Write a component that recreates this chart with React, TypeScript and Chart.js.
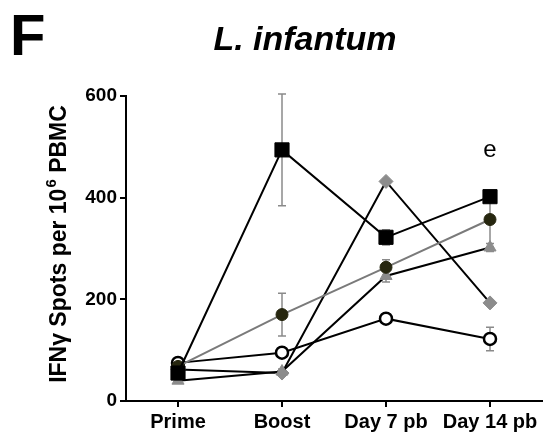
import React, { useEffect, useRef } from 'react';
import { Chart, registerables } from 'chart.js';
Chart.register(...registerables);

const categories = ['Prime', 'Boost', 'Day 7 pb', 'Day 14 pb'];
const squareValues = [55, 494, 322, 402];
const squareErrors = [8, 110, 15, 10];
const filledCircleValues = [68, 170, 263, 357];
const filledCircleErrors = [5, 42, 15, 55];
const openCircleValues = [75, 95, 162, 122];
const openCircleErrors = [5, 8, 5, 23];
const triangleValues = [40, 58, 246, 302];
const triangleErrors = [3, 5, 12, 8];
const diamondValues = [62, 55, 432, 193];
const diamondErrors = [3, 3, 4, 4];
const yTicks = [0, 200, 400, 600];
const annotationText = 'e';
const annotationCategory = 'Day 14 pb';
const annotationValue = 480;
const panelLetter = 'F';
const titleText = 'L. infantum';
const yTitleMain = 'IFNγ Spots per 10';
const yTitleSup = '6';
const yTitleEnd = ' PBMC';

const FONT = '"Liberation Sans", Arial, sans-serif';

const errorBarPlugin = {
  id: 'errorBars',
  beforeDatasetsDraw(chart: any) {
    const ctx = chart.ctx;
    const yScale = chart.scales.y;
    chart.data.datasets.forEach((ds: any, i: number) => {
      const meta = chart.getDatasetMeta(i);
      if (!ds.errors) return;
      meta.data.forEach((pt: any, j: number) => {
        const v = ds.data[j];
        const e = ds.errors[j];
        if (!e) return;
        const x = pt.x;
        const yTop = yScale.getPixelForValue(v + e);
        const yBot = yScale.getPixelForValue(v - e);
        ctx.save();
        ctx.strokeStyle = '#8a8a8a';
        ctx.lineWidth = 1.5;
        ctx.beginPath();
        ctx.moveTo(x, yTop);
        ctx.lineTo(x, yBot);
        ctx.moveTo(x - 4, yTop);
        ctx.lineTo(x + 4, yTop);
        ctx.moveTo(x - 4, yBot);
        ctx.lineTo(x + 4, yBot);
        ctx.stroke();
        ctx.restore();
      });
    });
  },
};

const textPlugin = {
  id: 'texts',
  afterDraw(chart: any) {
    const ctx = chart.ctx;
    ctx.save();
    ctx.fillStyle = '#000';
    ctx.textBaseline = 'alphabetic';
    ctx.textAlign = 'left';
    ctx.font = `bold 58px ${FONT}`;
    ctx.fillText(panelLetter, 10, 55);
    ctx.textAlign = 'center';
    ctx.font = `italic bold 34px ${FONT}`;
    ctx.fillText(titleText, 305, 50);

    // y axis title
    ctx.translate(66, 244);
    ctx.rotate(-Math.PI / 2);
    ctx.textAlign = 'left';
    const mainFont = `bold 23px ${FONT}`;
    const supFont = `bold 15px ${FONT}`;
    ctx.font = mainFont;
    const w1 = ctx.measureText(yTitleMain).width;
    const w3 = ctx.measureText(yTitleEnd).width;
    ctx.font = supFont;
    const w2 = ctx.measureText(yTitleSup).width;
    const total = w1 + w2 + w3 + 1;
    let x = -total / 2;
    ctx.font = mainFont;
    ctx.fillText(yTitleMain, x, 0);
    x += w1 + 1;
    ctx.font = supFont;
    ctx.fillText(yTitleSup, x, -10);
    x += w2;
    ctx.font = mainFont;
    ctx.fillText(yTitleEnd, x, 0);
    ctx.restore();

    // annotation
    const xs = chart.scales.x;
    const ys = chart.scales.y;
    const ax = xs.getPixelForValue(categories.indexOf(annotationCategory));
    const ay = ys.getPixelForValue(annotationValue);
    ctx.save();
    ctx.fillStyle = '#000';
    ctx.font = `24px ${FONT}`;
    ctx.textAlign = 'center';
    ctx.textBaseline = 'alphabetic';
    ctx.fillText(annotationText, ax, ay);
    ctx.restore();
  },
};

export default function App() {
  const ref = useRef<HTMLCanvasElement>(null);
  useEffect(() => {
    if (!ref.current) return;
    const chart = new Chart(ref.current, {
      type: 'line',
      data: {
        labels: categories,
        datasets: [
          {
            data: squareValues,
            errors: squareErrors,
            borderColor: '#000',
            borderWidth: 2,
            pointStyle: 'rect',
            pointRadius: 10,
            pointBackgroundColor: '#000',
            pointBorderColor: '#000',
            pointBorderWidth: 1,
          } as any,
          {
            data: filledCircleValues,
            errors: filledCircleErrors,
            borderColor: '#7a7a7a',
            borderWidth: 2,
            pointStyle: 'circle',
            pointRadius: 6,
            pointBackgroundColor: '#26260f',
            pointBorderColor: '#26260f',
            pointBorderWidth: 1,
          } as any,
          {
            data: openCircleValues,
            errors: openCircleErrors,
            borderColor: '#000',
            borderWidth: 2,
            pointStyle: 'circle',
            pointRadius: 6,
            pointBackgroundColor: '#fff',
            pointBorderColor: '#000',
            pointBorderWidth: 2.5,
          } as any,
          {
            data: triangleValues,
            errors: triangleErrors,
            borderColor: '#000',
            borderWidth: 2,
            pointStyle: 'triangle',
            pointRadius: 7,
            pointBackgroundColor: '#8c8c8c',
            pointBorderColor: '#8c8c8c',
            pointBorderWidth: 1,
          } as any,
          {
            data: diamondValues,
            errors: diamondErrors,
            borderColor: '#000',
            borderWidth: 2,
            pointStyle: 'rectRot',
            pointRadius: 7,
            pointBackgroundColor: '#8c8c8c',
            pointBorderColor: '#8c8c8c',
            pointBorderWidth: 1,
          } as any,
        ],
      },
      options: {
        animation: false,
        responsive: false,
        devicePixelRatio: 1,
        layout: { padding: { top: 96, right: 5, left: 0, bottom: 0 } },
        plugins: {
          legend: { display: false },
          tooltip: { enabled: false },
          title: { display: false },
        },
        scales: {
          x: {
            type: 'category',
            offset: true,
            afterFit: (s: any) => {
              s.height = 40;
            },
            border: { display: true, color: '#000', width: 2 },
            grid: {
              display: true,
              offset: false,
              drawOnChartArea: false,
              drawTicks: true,
              tickLength: 6,
              color: '#000',
              lineWidth: 2,
            },
            ticks: {
              color: '#000',
              padding: 3,
              maxRotation: 0,
              autoSkip: false,
              font: { family: FONT, size: 20, weight: 'bold' },
            },
          },
          y: {
            min: 0,
            max: 600,
            afterFit: (s: any) => {
              s.width = 126;
            },
            afterBuildTicks: (s: any) => {
              s.ticks = yTicks.map((v) => ({ value: v }));
            },
            border: { display: true, color: '#000', width: 2 },
            grid: {
              display: true,
              drawOnChartArea: false,
              drawTicks: true,
              tickLength: 6,
              color: '#000',
              lineWidth: 2,
            },
            ticks: {
              color: '#000',
              padding: 3,
              font: { family: FONT, size: 19, weight: 'bold' },
            },
          },
        },
      } as any,
      plugins: [errorBarPlugin, textPlugin],
    });
    return () => chart.destroy();
  }, []);
  return (
    <div style={{ position: 'absolute', left: 0, top: 0, width: 553, height: 441, background: '#fff' }}>
      <canvas ref={ref} width={553} height={441} style={{ width: 553, height: 441 }} />
    </div>
  );
}
